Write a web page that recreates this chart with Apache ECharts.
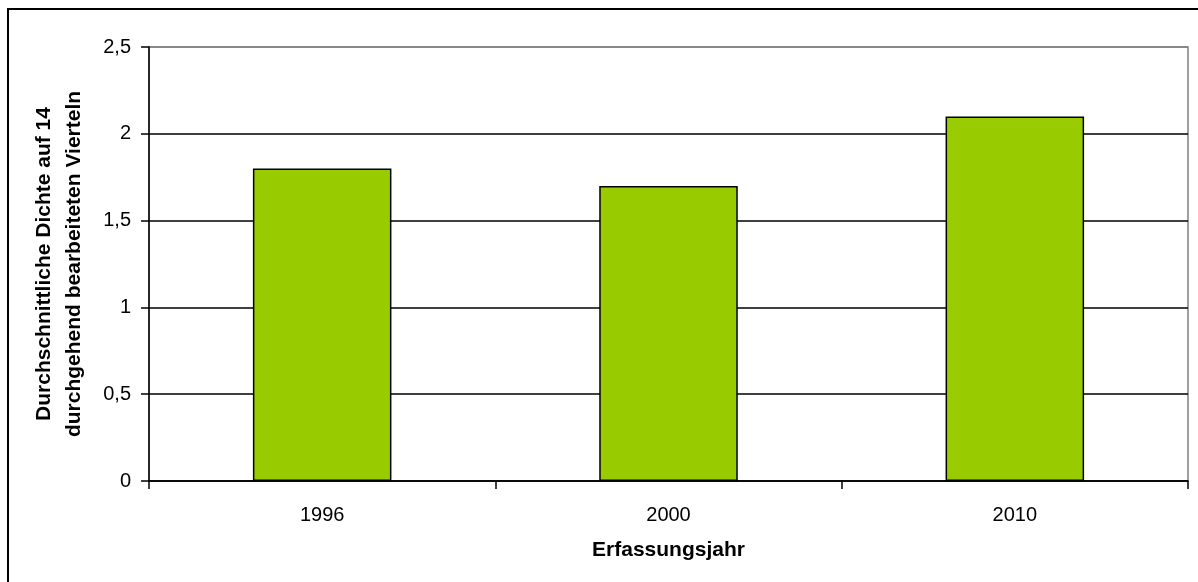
<!DOCTYPE html>
<html>
<head>
<meta charset="utf-8">
<script src="https://cdn.jsdelivr.net/npm/echarts@6/dist/echarts.min.js"></script>
<style>
html,body{margin:0;padding:0;background:#fff;}
#c{width:1198px;height:582px;}
</style>
</head>
<body>
<div id="c"></div>
<script>
const categories = ['1996', '2000', '2010'];
const densityValues = [1.8, 1.7, 2.1];
const yTicks = [0, 0.5, 1, 1.5, 2, 2.5];
const xTitle = 'Erfassungsjahr';
const yTitle = 'Durchschnittliche Dichte auf 14\ndurchgehend bearbeiteten Vierteln';

const chart = echarts.init(document.getElementById('c'), null, {renderer: 'canvas'});
const font = 'Arial, "Liberation Sans", sans-serif';
chart.setOption({
  animation: false,
  backgroundColor: '#fff',
  graphic: [{
    type: 'rect', silent: true, z: 100,
    shape: {x: 8, y: 9, width: 1400, height: 900},
    style: {fill: 'none', stroke: '#000', lineWidth: 2}
  }],
  grid: {
    left: 149, right: 10, top: 47, bottom: 101,
    show: true, borderColor: '#808080', borderWidth: 1.5, backgroundColor: 'transparent'
  },
  xAxis: {
    type: 'category',
    data: categories,
    name: xTitle,
    nameLocation: 'middle',
    nameGap: 59,
    nameTextStyle: {fontFamily: font, fontSize: 21, fontWeight: 'bold', color: '#000'},
    axisLine: {lineStyle: {color: '#000', width: 1.5}},
    axisTick: {show: true, length: 8, lineStyle: {color: '#000', width: 1.5}},
    axisLabel: {margin: 24, fontFamily: font, fontSize: 20, color: '#000'}
  },
  yAxis: {
    type: 'value',
    min: yTicks[0],
    max: yTicks[yTicks.length - 1],
    interval: 0.5,
    name: yTitle,
    nameLocation: 'middle',
    nameGap: 60,
    nameRotate: 90,
    nameTextStyle: {fontFamily: font, fontSize: 21, fontWeight: 'bold', color: '#000', lineHeight: 30, align: 'center'},
    axisLine: {show: true, lineStyle: {color: '#000', width: 1.5}},
    axisTick: {show: true, length: 8, lineStyle: {color: '#000', width: 1.5}},
    axisLabel: {
      margin: 18, fontFamily: font, fontSize: 20, color: '#000',
      formatter: v => String(v).replace('.', ',')
    },
    splitLine: {show: true, lineStyle: {color: ['#000', '#000', '#000', '#000', '#000', '#808080'], width: 1.5}}
  },
  series: [{
    type: 'bar',
    data: densityValues,
    barWidth: '40%',
    itemStyle: {color: '#99CC00', borderColor: '#000', borderWidth: 1.5}
  }]
});
</script>
</body>
</html>
